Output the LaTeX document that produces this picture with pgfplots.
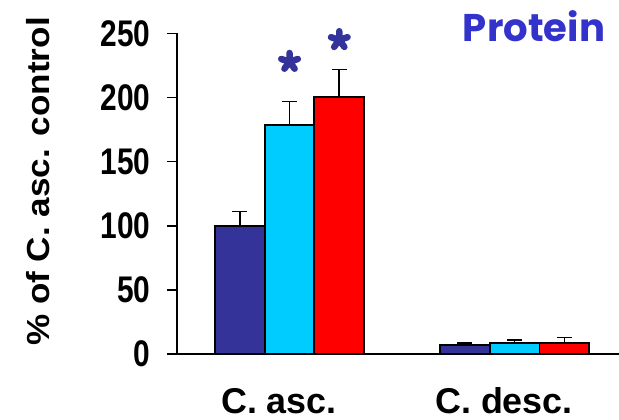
\documentclass[border=0pt]{standalone}
\usepackage{fontspec}
\setmainfont{Liberation Sans}
\newfontfamily\popp{Poppins}
\usepackage{pgfplots}
\pgfplotsset{compat=1.18}
\usepackage{graphicx}
\definecolor{navy}{HTML}{333399}
\definecolor{cyanb}{HTML}{00CCFF}
\definecolor{redb}{HTML}{FF0000}
\definecolor{protblue}{HTML}{3333CC}
\newcommand{\tl}[1]{\scalebox{1}[1.24]{#1}}
\begin{document}
\begin{tikzpicture}
\path[use as bounding box] (-177bp,-66bp) rectangle (442bp,354bp);
\begin{axis}[
  at={(0,0)}, anchor=south west,
  scale only axis, width=442bp, height=320.5bp,
  xmin=-0.5, xmax=1.464, ymin=0, ymax=250,
  axis x line=bottom, axis y line=left,
  axis line style={-, line width=1.6bp},
  ybar=0pt, bar width=0.221,
  xtick=\empty, minor xtick={-0.5,0.5,1.5},
  ytick={0,50,100,150,200,250},
  yticklabels={\tl{0},\tl{50},\tl{100},\tl{150},\tl{200},\tl{250}},
  tick align=outside,
  major tick length=10bp, minor tick length=12bp,
  tick style={black, line width=1.6bp},
  yticklabel style={font=\fontsize{30}{30}\selectfont\bfseries, anchor=east, xshift=-13bp},
  clip=false,
  error bars/y dir=plus, error bars/y explicit,
  error bars/error bar style={line width=1.6bp, black},
  error bars/error mark options={rotate=90, mark size=7.5bp, line width=1.6bp, black},
]
\addplot[fill=navy, draw=black, line width=1.8bp]
  coordinates {(0,100) +- (0,11) (1,7) +- (0,1.8)};
\addplot[fill=cyanb, draw=black, line width=1.8bp]
  coordinates {(0,178.5) +- (0,18.5) (1,8.8) +- (0,2.1)};
\addplot[fill=redb, draw=black, line width=1.8bp]
  coordinates {(0,200.5) +- (0,21.5) (1,8.8) +- (0,4.2)};
\end{axis}
\begin{axis}[
  at={(0,0)}, anchor=south west,
  scale only axis, width=442bp, height=320.5bp,
  xmin=-0.5, xmax=1.464, ymin=0, ymax=250,
  axis lines=none, ticks=none, clip=false,
]
\addplot[only marks, mark=star, color=navy, mark size=8.7bp,
  every mark/.append style={line width=6.5bp, line cap=round, line join=round, solid}]
  coordinates {(0,228) (0.221,245)};
\end{axis}
\node[rotate=90, font=\fontsize{32}{32}\selectfont\bfseries] at (-139bp,172.5bp) {\scalebox{1.1}[1]{\% of C. asc. control}};
\node[anchor=base, font=\fontsize{36}{36}\selectfont\bfseries] at (102bp,-59bp) {C. asc.};
\node[anchor=base, font=\fontsize{36}{36}\selectfont\bfseries] at (327bp,-59bp) {C. desc.};
\node[anchor=base, text=protblue, inner sep=0pt] at (357bp,312bp) {\resizebox{142bp}{!}{\popp\bfseries Protein}};
\end{tikzpicture}
\end{document}
